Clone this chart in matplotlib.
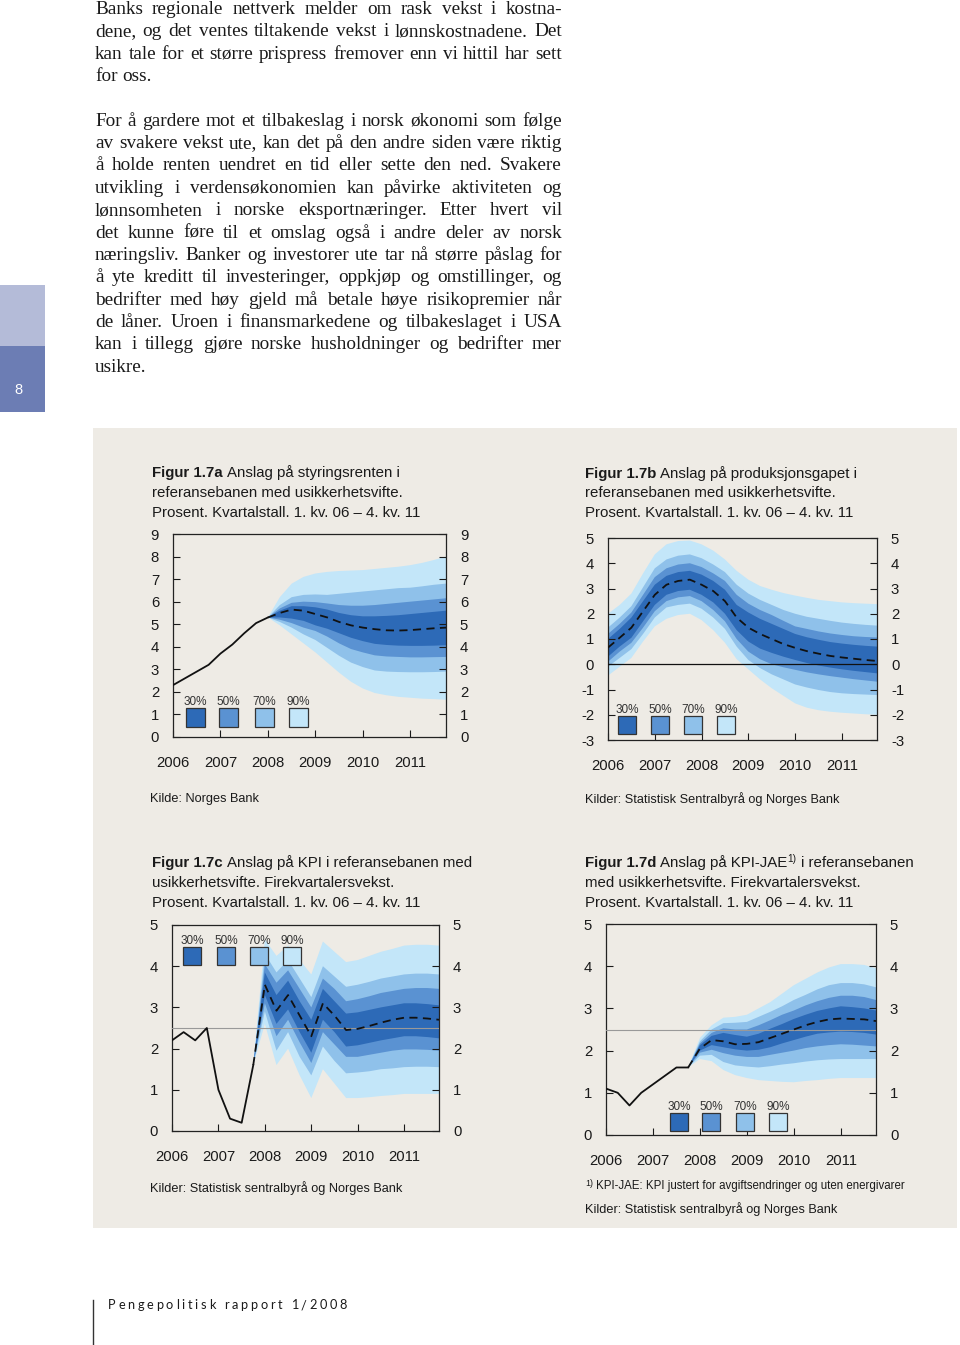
import numpy as np
import matplotlib
matplotlib.use("Agg")
import matplotlib.pyplot as plt
from matplotlib.patches import Rectangle

plt.rcParams['font.family'] = ['Liberation Sans', 'DejaVu Sans']
plt.rcParams['axes.unicode_minus'] = False

# ---------------- data ----------------
years = [2006, 2007, 2008, 2009, 2010, 2011]
bands = ['30%', '50%', '70%', '90%']
band_colors = ['#2d6ab7', '#5a92d2', '#8fc1ea', '#c3e6f9']

# Figur 1.7a  styringsrenten (historie 1.kv 06 - 1.kv 08, anslag 1.kv 08 - 4.kv 11)
a_hist = [2.3, 2.6, 2.9, 3.2, 3.7, 4.1, 4.6, 5.05, 5.3]
a_mid = [5.3, 5.5, 5.65, 5.6, 5.45, 5.3, 5.1, 4.95, 4.85, 4.78, 4.73, 4.72, 4.74, 4.78, 4.82, 4.85]
a_lo90 = [5.3, 4.95, 4.55, 4.15, 3.75, 3.3, 2.85, 2.45, 2.15, 1.95, 1.85, 1.78, 1.74, 1.7, 1.68, 1.65]
a_hi90 = [5.3, 6.2, 6.8, 7.1, 7.25, 7.32, 7.36, 7.38, 7.4, 7.45, 7.5, 7.55, 7.62, 7.72, 7.85, 8.0]
a_lo70 = [5.3, 5.1, 4.85, 4.55, 4.3, 3.95, 3.6, 3.3, 3.1, 2.95, 2.9, 2.88, 2.87, 2.87, 2.88, 2.9]
a_hi70 = [5.3, 5.85, 6.2, 6.3, 6.32, 6.3, 6.35, 6.4, 6.45, 6.5, 6.55, 6.6, 6.62, 6.68, 6.75, 6.8]
a_lo50 = [5.3, 5.2, 5.05, 4.85, 4.7, 4.45, 4.15, 3.9, 3.75, 3.62, 3.57, 3.55, 3.53, 3.53, 3.54, 3.55]
a_hi50 = [5.3, 5.7, 5.95, 6.0, 5.98, 5.92, 5.85, 5.82, 5.82, 5.85, 5.9, 5.95, 6.0, 6.05, 6.1, 6.15]
a_lo30 = [5.3, 5.3, 5.25, 5.15, 4.95, 4.8, 4.6, 4.4, 4.25, 4.13, 4.08, 4.05, 4.04, 4.04, 4.05, 4.07]
a_hi30 = [5.3, 5.6, 5.8, 5.8, 5.75, 5.65, 5.5, 5.4, 5.35, 5.35, 5.37, 5.4, 5.45, 5.5, 5.55, 5.6]

# Figur 1.7b  produksjonsgapet (1.kv 06 - 4.kv 11)
b_mid = [0.66, 1.05, 1.45, 2.1, 2.75, 3.15, 3.3, 3.35, 3.15, 2.9, 2.5, 1.85,
         1.45, 1.2, 1.0, 0.8, 0.65, 0.52, 0.42, 0.33, 0.27, 0.22, 0.17, 0.13]
b_lo90 = [-0.45, -0.1, 0.25, 0.9, 1.5, 1.8, 1.95, 2.0, 1.75, 1.35, 0.85, 0.2,
          -0.2, -0.6, -0.95, -1.25, -1.55, -1.72, -1.82, -1.88, -1.92, -1.95, -1.98, -2.0]
b_hi90 = [2.0, 2.35, 2.8, 3.6, 4.35, 4.75, 4.88, 4.9, 4.75, 4.5, 4.15, 3.7,
          3.35, 3.1, 2.95, 2.82, 2.72, 2.63, 2.55, 2.5, 2.45, 2.42, 2.4, 2.38]
b_lo70 = [-0.1, 0.25, 0.6, 1.2, 1.85, 2.25, 2.35, 2.4, 2.2, 1.85, 1.4, 0.7,
          0.17, -0.15, -0.4, -0.6, -0.8, -0.92, -1.02, -1.1, -1.15, -1.18, -1.2, -1.22]
b_hi70 = [1.45, 1.85, 2.3, 3.05, 3.8, 4.15, 4.3, 4.35, 4.2, 3.95, 3.65, 3.15,
          2.8, 2.55, 2.35, 2.15, 2.0, 1.88, 1.8, 1.72, 1.65, 1.6, 1.56, 1.53]
b_lo50 = [0.1, 0.5, 0.85, 1.45, 2.1, 2.5, 2.65, 2.7, 2.5, 2.15, 1.7, 1.0,
          0.5, 0.2, 0.0, -0.12, -0.22, -0.32, -0.4, -0.47, -0.53, -0.59, -0.64, -0.69]
b_hi50 = [1.2, 1.6, 2.05, 2.75, 3.45, 3.8, 3.95, 4.0, 3.85, 3.6, 3.3, 2.75,
          2.4, 2.15, 1.95, 1.72, 1.5, 1.4, 1.3, 1.22, 1.16, 1.11, 1.08, 1.06]
b_lo30 = [0.3, 0.7, 1.05, 1.7, 2.35, 2.75, 2.9, 2.95, 2.75, 2.45, 2.0, 1.35,
          0.9, 0.62, 0.45, 0.3, 0.17, 0.05, -0.05, -0.13, -0.2, -0.26, -0.31, -0.36]
b_hi30 = [1.0, 1.4, 1.85, 2.5, 3.15, 3.5, 3.65, 3.7, 3.55, 3.3, 2.95, 2.35,
          2.05, 1.8, 1.6, 1.4, 1.2, 1.07, 0.97, 0.88, 0.82, 0.77, 0.73, 0.7]

# Figur 1.7c  KPI (historie 1.kv 06 - 4.kv 07, anslag 4.kv 07 - 4.kv 11)
c_hist = [2.2, 2.4, 2.2, 2.5, 1.0, 0.3, 0.2, 1.6]
c_mid = [1.6, 3.55, 2.92, 3.3, 2.8, 2.3, 3.1, 2.8, 2.45, 2.48, 2.55, 2.63, 2.7, 2.75, 2.75, 2.73, 2.7]
c_lo90 = [1.6, 2.6, 1.6, 2.0, 1.35, 0.8, 1.5, 1.15, 0.8, 0.8, 0.82, 0.85, 0.87, 0.9, 0.9, 0.9, 0.9]
c_hi90 = [1.6, 4.65, 4.25, 4.5, 4.15, 3.8, 4.6, 4.35, 4.1, 4.15, 4.25, 4.35, 4.42, 4.5, 4.52, 4.52, 4.5]
c_lo70 = [1.6, 2.9, 1.95, 2.4, 1.8, 1.35, 2.05, 1.7, 1.4, 1.42, 1.45, 1.5, 1.52, 1.55, 1.56, 1.56, 1.55]
c_hi70 = [1.6, 4.3, 3.85, 4.15, 3.7, 3.25, 4.0, 3.75, 3.5, 3.55, 3.62, 3.7, 3.75, 3.8, 3.82, 3.82, 3.8]
c_lo50 = [1.6, 3.1, 2.3, 2.7, 2.15, 1.65, 2.4, 2.1, 1.8, 1.8, 1.85, 1.9, 1.95, 1.98, 1.98, 1.97, 1.95]
c_hi50 = [1.6, 4.05, 3.6, 3.9, 3.45, 3.0, 3.7, 3.45, 3.15, 3.2, 3.27, 3.35, 3.4, 3.45, 3.47, 3.47, 3.45]
c_lo30 = [1.6, 3.3, 2.6, 2.95, 2.4, 1.9, 2.7, 2.4, 2.05, 2.08, 2.14, 2.2, 2.25, 2.3, 2.3, 2.28, 2.25]
c_hi30 = [1.6, 3.85, 3.3, 3.65, 3.15, 2.7, 3.45, 3.15, 2.85, 2.88, 2.94, 3.0, 3.05, 3.1, 3.1, 3.08, 3.05]

# Figur 1.7d  KPI-JAE (historie 1.kv 06 - 4.kv 07, anslag 4.kv 07 - 4.kv 11)
d_hist = [1.1, 1.0, 0.7, 1.0, 1.2, 1.4, 1.6, 1.6]
d_mid = [1.6, 2.05, 2.25, 2.22, 2.15, 2.16, 2.2, 2.3, 2.4, 2.5, 2.6, 2.68, 2.74, 2.76, 2.75, 2.74, 2.7]
d_lo90 = [1.6, 1.8, 1.75, 1.54, 1.42, 1.35, 1.3, 1.28, 1.26, 1.25, 1.28, 1.3, 1.33, 1.35, 1.35, 1.35, 1.35]
d_hi90 = [1.6, 2.3, 2.6, 2.78, 2.8, 2.85, 3.0, 3.15, 3.35, 3.55, 3.7, 3.85, 3.97, 4.05, 4.05, 4.03, 3.95]
d_lo70 = [1.6, 1.88, 1.9, 1.73, 1.65, 1.62, 1.6, 1.63, 1.67, 1.7, 1.74, 1.77, 1.79, 1.8, 1.8, 1.8, 1.8]
d_hi70 = [1.6, 2.22, 2.5, 2.65, 2.66, 2.68, 2.8, 2.92, 3.05, 3.2, 3.32, 3.45, 3.55, 3.6, 3.6, 3.57, 3.5]
d_lo50 = [1.6, 1.95, 2.02, 1.94, 1.88, 1.85, 1.85, 1.9, 1.95, 2.0, 2.06, 2.1, 2.13, 2.15, 2.14, 2.12, 2.1]
d_hi50 = [1.6, 2.17, 2.42, 2.53, 2.5, 2.5, 2.6, 2.72, 2.85, 2.95, 3.07, 3.17, 3.25, 3.3, 3.3, 3.27, 3.2]
d_lo30 = [1.6, 2.0, 2.13, 2.08, 2.03, 2.0, 2.02, 2.08, 2.17, 2.25, 2.33, 2.4, 2.43, 2.45, 2.44, 2.42, 2.38]
d_hi30 = [1.6, 2.13, 2.35, 2.42, 2.37, 2.33, 2.4, 2.52, 2.63, 2.75, 2.85, 2.94, 3.0, 3.05, 3.03, 3.0, 2.95]

para1 = ["Banks regionale nettverk melder om rask vekst i kostna-",
         "dene, og det ventes tiltakende vekst i lønnskostnadene. Det",
         "kan tale for et større prispress fremover enn vi hittil har sett",
         "for oss."]
para2 = ["For å gardere mot et tilbakeslag i norsk økonomi som følge",
         "av svakere vekst ute, kan det på den andre siden være riktig",
         "å holde renten uendret en tid eller sette den ned. Svakere",
         "utvikling i verdensøkonomien kan påvirke aktiviteten og",
         "lønnsomheten i norske eksportnæringer. Etter hvert vil",
         "det kunne føre til et omslag også i andre deler av norsk",
         "næringsliv. Banker og investorer ute tar nå større påslag for",
         "å yte kreditt til investeringer, oppkjøp og omstillinger, og",
         "bedrifter med høy gjeld må betale høye risikopremier når",
         "de låner. Uroen i finansmarkedene og tilbakeslaget i USA",
         "kan i tillegg gjøre norske husholdninger og bedrifter mer",
         "usikre."]

# ---------------- figure ----------------
W, H = 960, 1345
panel = '#eeebe5'
fig = plt.figure(figsize=(W / 100, H / 100), dpi=100)


def frac(x0, y0, x1, y1):
    return [x0 / W, 1 - y1 / H, (x1 - x0) / W, (y1 - y0) / H]


bg = fig.add_axes([0, 0, 1, 1])
bg.set_xlim(0, W)
bg.set_ylim(H, 0)
bg.axis('off')
bg.add_patch(Rectangle((93, 428), 864, 800, facecolor=panel, lw=0))
bg.add_patch(Rectangle((0, 285), 45, 61, facecolor='#b4bbd8', lw=0))
bg.add_patch(Rectangle((0, 346), 45, 66, facecolor='#6c7db4', lw=0))
bg.plot([93, 93], [1300, 1345], color='#333333', lw=1)


def setup(box, ymin, ymax):
    ax = fig.add_axes(frac(*box))
    ax.patch.set_visible(False)
    ax.set_xlim(2006, 2011.75)
    ax.set_ylim(ymin, ymax)
    ax.set_xticks(years)
    ax.set_xticklabels([str(y) for y in years])
    ax.set_yticks(range(ymin, ymax + 1))
    ax.tick_params(axis='y', direction='in', length=5, width=0.8, left=True, right=True,
                   labelleft=True, labelright=True, labelsize=10.7, pad=10, colors='#1a1a1a')
    ax.tick_params(axis='x', direction='in', length=5, width=0.8, labelsize=10.7, pad=14,
                   colors='#1a1a1a')
    for s in ax.spines.values():
        s.set_linewidth(0.9)
        s.set_color('#222222')
    return ax


def fan(ax, x0, mid, los, his):
    x = x0 + 0.25 * np.arange(len(mid))
    for lo, hi, c in zip(los, his, band_colors[::-1]):
        ax.fill_between(x, lo, hi, facecolor=c, edgecolor='none', zorder=1)
    ax.plot(x, mid, color='#111111', lw=1.3, dashes=(4.5, 3), zorder=4)


def hist(ax, vals):
    x = 2006 + 0.25 * np.arange(len(vals))
    ax.plot(x, vals, color='#111111', lw=1.3, zorder=5)


ax_a = setup((173, 534, 446, 737), 0, 9)
fan(ax_a, 2008.0, a_mid, [a_lo90, a_lo70, a_lo50, a_lo30], [a_hi90, a_hi70, a_hi50, a_hi30])
hist(ax_a, a_hist)

ax_b = setup((608, 538, 877, 740), -3, 5)
fan(ax_b, 2006.0, b_mid, [b_lo90, b_lo70, b_lo50, b_lo30], [b_hi90, b_hi70, b_hi50, b_hi30])
ax_b.axhline(0, color='#111111', lw=0.9, zorder=3)

ax_c = setup((172, 925, 439, 1131), 0, 5)
ax_c.axhline(2.5, color='#999999', lw=0.8, zorder=3)
fan(ax_c, 2007.75, c_mid, [c_lo90, c_lo70, c_lo50, c_lo30], [c_hi90, c_hi70, c_hi50, c_hi30])
hist(ax_c, c_hist)

ax_d = setup((606, 924, 876, 1135), 0, 5)
ax_d.axhline(2.5, color='#999999', lw=0.8, zorder=3)
fan(ax_d, 2007.75, d_mid, [d_lo90, d_lo70, d_lo50, d_lo30], [d_hi90, d_hi70, d_hi50, d_hi30])
hist(ax_d, d_hist)

# overlay for all text and legends
ov = fig.add_axes([0, 0, 1, 1])
ov.set_xlim(0, W)
ov.set_ylim(H, 0)
ov.axis('off')
ov.patch.set_visible(False)
R = fig.canvas.get_renderer()


def tw(t):
    return t.get_window_extent(R).width


def space_w(**kw):
    t1 = ov.text(0, 0, 'n n', **kw)
    t2 = ov.text(0, 0, 'nn', **kw)
    w = tw(t1) - tw(t2)
    t1.remove()
    t2.remove()
    return w


def chain(x, y, parts, size, color='#1a1a1a'):
    sp = space_w(fontsize=size)
    for s, kw in parts:
        if s == ' ':
            x += sp
            continue
        kw = dict(kw)
        fs = kw.pop('fontsize', size)
        dy = kw.pop('dy', 0)
        t = ov.text(x, y - dy, s, fontsize=fs, va='baseline', color=color, **kw)
        x += tw(t)


def legend(xs, top, size):
    for x, lab, c in zip(xs, bands, band_colors):
        ov.add_patch(Rectangle((x, top), size, size, facecolor=c, edgecolor='#333333', lw=0.9, zorder=6))
        ov.text(x + size / 2, top - 6, lab, ha='center', va='center', fontsize=8.5, color='#333333')


B = {'fontweight': 'bold'}
N = {}
TS = 10.8
SRC = 9.2
sup = {'fontsize': 7.2, 'dy': 5}

chain(152, 477, [('Figur 1.7a', B), (' ', N), ('Anslag på styringsrenten i', N)], TS)
chain(152, 497, [('referansebanen med usikkerhetsvifte.', N)], TS)
chain(152, 517, [('Prosent. Kvartalstall. 1. kv. 06 – 4. kv. 11', N)], TS)
chain(150, 802, [('Kilde: Norges Bank', N)], SRC)

chain(585, 478, [('Figur 1.7b', B), (' ', N), ('Anslag på produksjonsgapet i', N)], TS)
chain(585, 497, [('referansebanen med usikkerhetsvifte.', N)], TS)
chain(585, 517, [('Prosent. Kvartalstall. 1. kv. 06 – 4. kv. 11', N)], TS)
chain(585, 803, [('Kilder: Statistisk Sentralbyrå og Norges Bank', N)], SRC)

chain(152, 867, [('Figur 1.7c', B), (' ', N), ('Anslag på KPI i referansebanen med', N)], TS)
chain(152, 887, [('usikkerhetsvifte. Firekvartalersvekst.', N)], TS)
chain(152, 907, [('Prosent. Kvartalstall. 1. kv. 06 – 4. kv. 11', N)], TS)
chain(150, 1192, [('Kilder: Statistisk sentralbyrå og Norges Bank', N)], SRC)

chain(585, 867, [('Figur 1.7d', B), (' ', N), ('Anslag på KPI-JAE', N), ('1)', sup), (' ', N),
                 ('i referansebanen', N)], TS)
chain(585, 887, [('med usikkerhetsvifte. Firekvartalersvekst.', N)], TS)
chain(585, 907, [('Prosent. Kvartalstall. 1. kv. 06 – 4. kv. 11', N)], TS)
chain(585, 1189, [('1)', {'fontsize': 6.3, 'dy': 3}), (' ', N),
                  ('KPI-JAE: KPI justert for avgiftsendringer og uten energivarer', N)], 8.3)
chain(585, 1213, [('Kilder: Statistisk sentralbyrå og Norges Bank', N)], SRC)

legend([186, 219, 255, 289], 708, 19)
legend([618, 651, 684, 717], 716, 18)
legend([183, 217, 250, 283], 947, 18)
legend([670, 702, 736, 769], 1113, 18)

# body text, justified
body = dict(family=['Liberation Serif', 'DejaVu Serif'], fontsize=13.9, color='#1a1a1a')
sw = space_w(**body)
lines = [(l, i < len(para1) - 1, i) for i, l in enumerate(para1)]
lines += [(l, i < len(para2) - 1, i + len(para1) + 1) for i, l in enumerate(para2)]
for line, just, idx in lines:
    y = 8 + 22.35 * idx + 6
    words = line.split(' ')
    ts = [ov.text(0, y, w, va='baseline', **body) for w in words]
    ws = [tw(t) for t in ts]
    gap = (467 - sum(ws)) / (len(words) - 1) if just else sw
    x = 95
    for t, w in zip(ts, ws):
        t.set_x(x)
        x += w + gap

# side tab page number
ov.text(18, 390, '8', color='white', fontsize=10.5, ha='center', va='center')

# footer, letter spaced
foot = 'Pengepolitisk rapport 1/2008'
fkw = dict(family=['Lato', 'DejaVu Sans'], fontsize=9.2, color='#1a1a1a')
fsw = space_w(**fkw)
fts = []
for ch in foot:
    if ch == ' ':
        fts.append(None)
        continue
    fts.append(ov.text(0, 1309, ch, va='baseline', **fkw))
fws = [tw(t) if t is not None else fsw for t in fts]
track = (239 - sum(fws)) / (len(foot) - 1)
x = 108
for t, w in zip(fts, fws):
    if t is not None:
        t.set_x(x)
    x += w + track

fig.savefig('out.png', dpi=100)
